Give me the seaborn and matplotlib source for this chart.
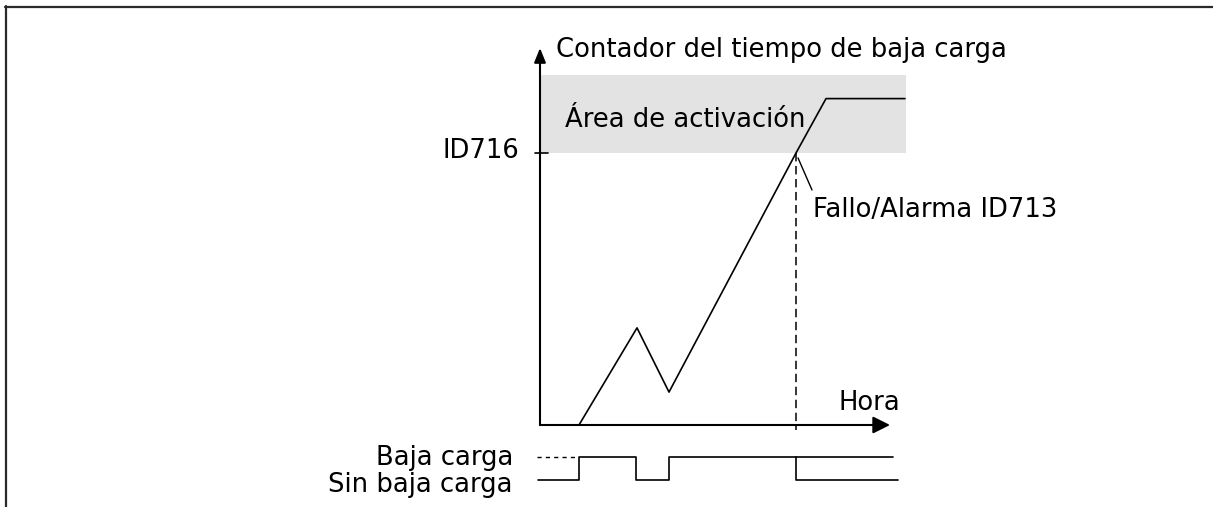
import matplotlib
matplotlib.use('Agg')
import matplotlib.pyplot as plt
import seaborn as sns
import pandas as pd
from matplotlib.lines import Line2D

# ---------------- data ----------------
counter_time = [3.9, 9.7, 12.9, 25.6, 28.6, 36.5]
counter_value = [0, 35.7, 12.1, 100, 120, 120]
threshold = 100            # ID716
band_top = 128.7
band_end = 36.6
fault_time = 25.6
axis_time_end = 35.0
axis_counter_end = 138.6

signal_time = [-0.2, 3.9, 3.9, 9.6, 9.6, 12.9, 12.9, 25.6, 25.6, 35.8]
signal_level = [0, 0, 1, 1, 0, 0, 1, 1, 0, 0]
signal_high_time = [25.6, 35.3]
signal_high_level = [1, 1]
signal_pre_time = [-0.3, 3.7]
signal_pre_level = [1, 1]

y_title = 'Contador del tiempo de baja carga'
x_title = 'Hora'
threshold_label = 'ID716'
band_label = 'Área de activación'
fault_label = 'Fallo/Alarma ID713'
level_labels = ['Sin baja carga', 'Baja carga']

# ---------------- plot ----------------
sns.set_theme(style='white')
plt.rcParams['font.family'] = ['DejaVu Sans']
plt.rcParams['text.color'] = 'black'
FS = 18.6

fig = plt.figure(figsize=(12.13, 5.07), dpi=100)
fig.patch.set_facecolor('white')
ax = fig.add_axes([0, 0, 1, 1])
ax.set_xlim(-54, 67.3)
ax.set_ylim(-30.15, 156.25)
ax.axis('off')

ax2 = fig.add_axes([0, 0, 1, 1], sharex=ax)
ax2.set_ylim(-1.174, 20.87)
ax2.axis('off')
ax2.patch.set_alpha(0)

# frame (top and left)
fig.add_artist(Line2D([5 / 1213, 1], [1 - 6.5 / 507] * 2, transform=fig.transFigure,
                      color='#2a2a2a', lw=1.6))
fig.add_artist(Line2D([6 / 1213] * 2, [0, 1 - 6 / 507], transform=fig.transFigure,
                      color='#2a2a2a', lw=1.6))

# activation band
ax.fill_between([0, band_end], [threshold] * 2, [band_top] * 2, color='#e3e3e3', lw=0, zorder=0)

# counter line
df = pd.DataFrame({'t': counter_time, 'c': counter_value})
sns.lineplot(data=df, x='t', y='c', ax=ax, color='black', lw=1.2, sort=False,
             estimator=None, zorder=3)

# axes with arrows
ax.annotate('', xy=(0, axis_counter_end), xytext=(0, 0),
            arrowprops=dict(arrowstyle='-|>,head_length=0.72,head_width=0.29',
                            lw=1.5, color='black', shrinkA=0, shrinkB=0))
ax.annotate('', xy=(axis_time_end, 0), xytext=(0, 0),
            arrowprops=dict(arrowstyle='-|>,head_length=0.86,head_width=0.43',
                            lw=1.5, color='black', shrinkA=0, shrinkB=0))

# threshold tick
ax.plot([-0.5, 0.8], [threshold] * 2, color='black', lw=1.2)

# fault dashed line
ax.plot([fault_time] * 2, [threshold, -1.8], color='black', lw=1.1, dashes=(5.5, 3))
# leader line
ax.plot([25.8, 27.2], [98.2, 86.4], color='black', lw=1.0)

# texts
ax.text(1.6, 135.3, y_title, fontsize=FS, ha='left', va='baseline', color='black')
ax.text(-2.1, 98.2, threshold_label, fontsize=FS, ha='right', va='baseline', color='black')
ax.text(2.5, 109.6, band_label, fontsize=FS, ha='left', va='baseline', color='black')
ax.text(27.3, 76.5, fault_label, fontsize=FS, ha='left', va='baseline', color='black')
ax.text(36.0, 5.5, x_title, fontsize=FS, ha='right', va='baseline', color='black')

# signal
sdf = pd.DataFrame({'t': signal_time, 'l': signal_level})
sns.lineplot(data=sdf, x='t', y='l', ax=ax2, color='black', lw=1.2, sort=False, estimator=None)
hdf = pd.DataFrame({'t': signal_high_time, 'l': signal_high_level})
sns.lineplot(data=hdf, x='t', y='l', ax=ax2, color='black', lw=1.2, sort=False, estimator=None)
pdf = pd.DataFrame({'t': signal_pre_time, 'l': signal_pre_level})
sns.lineplot(data=pdf, x='t', y='l', ax=ax2, color='black', lw=1.0, sort=False,
             estimator=None, dashes=False)
ax2.lines[-1].set_dashes((3, 3))

ax2.text(-2.7, 0.65, level_labels[1], fontsize=FS, ha='right', va='baseline', color='black')
ax2.text(-2.7, -0.52, level_labels[0], fontsize=FS, ha='right', va='baseline', color='black')

ax.set_xlim(-54, 67.3)
ax.set_ylim(-30.15, 156.25)
ax2.set_ylim(-1.174, 20.87)

fig.savefig('out.png', dpi=100, facecolor='white')
